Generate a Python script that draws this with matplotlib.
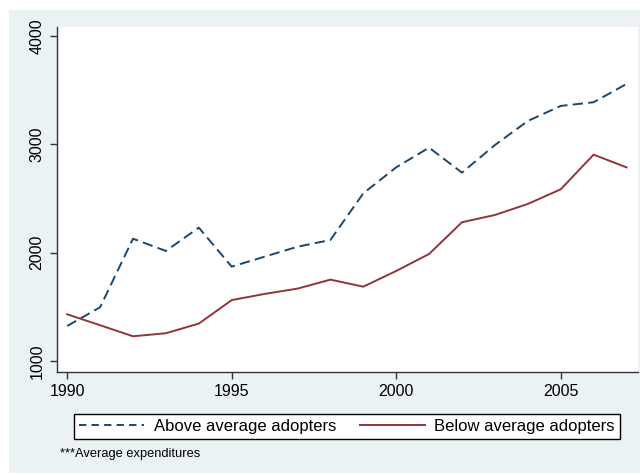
import matplotlib.pyplot as plt
from matplotlib.lines import Line2D
from matplotlib.patches import Rectangle

plt.rcParams["font.family"] = ["Liberation Sans", "DejaVu Sans"]

years = list(range(1990, 2008))
above_avg = [1323, 1496, 2129, 2016, 2231, 1871, 1963, 2055, 2117, 2548,
             2788, 2970, 2739, 2994, 3216, 3355, 3389, 3558]
below_avg = [1431, 1330, 1228, 1256, 1345, 1562, 1619, 1668, 1751, 1686,
             1831, 1988, 2281, 2348, 2450, 2585, 2905, 2788]
xticks = [1990, 1995, 2000, 2005]
yticks = [1000, 2000, 3000, 4000]

BLUE = "#1a476f"
RED = "#90353b"

W, H = 640, 475
fig = plt.figure(figsize=(W / 100, H / 100), dpi=100, facecolor="white")

# graph region (light blue-grey panel), kept behind the axes
fig.patches.append(Rectangle((9 / W, 2 / H), 1 - 9 / W, 463 / H,
                             transform=fig.transFigure, facecolor="#eaf2f3",
                             edgecolor="none", zorder=-5))

ax = fig.add_axes([57 / W, 1 - 372 / H, (638 - 57) / W, (372 - 27) / H])
ax.set_zorder(2)
ax.set_facecolor("white")

ax.plot(years, above_avg, color=BLUE, lw=1.4, dashes=(5.3, 2.7))
ax.plot(years, below_avg, color=RED, lw=1.4)

ax.set_xlim(1989.69, 2007.35)
ax.set_ylim(898, 4084)
ax.set_xticks(xticks)
ax.set_yticks(yticks)
ax.tick_params(axis="both", direction="out", length=5, width=1,
               color="#333333", labelsize=11.5, pad=4)
ax.tick_params(axis="y", labelrotation=90)
for lbl in ax.get_yticklabels():
    lbl.set_va("center")

for side in ["top", "right"]:
    ax.spines[side].set_visible(False)
for side in ["left", "bottom"]:
    ax.spines[side].set_color("#333333")
    ax.spines[side].set_linewidth(1)

# legend keys with shorter dashes than the plotted line
handles = [
    Line2D([], [], color=BLUE, lw=1.4, dashes=(3.75, 2.7)),
    Line2D([], [], color=RED, lw=1.4),
]
labels = ["Above average adopters", "Below average adopters"]
leg = ax.legend(handles, labels, loc="lower left", ncol=2, mode="expand",
                bbox_to_anchor=(74 / W, 1 - 439 / H, 546 / W, 31 / H),
                bbox_transform=fig.transFigure, fancybox=False,
                edgecolor="black", framealpha=1, fontsize=12,
                handlelength=3.9, handletextpad=0.6, borderaxespad=0,
                borderpad=0.3, columnspacing=1.0)
leg.get_frame().set_linewidth(1)

fig.text(60 / W, 1 - 454 / H, "***Average expenditures", fontsize=9.3,
         family=["Liberation Sans Narrow", "Liberation Sans"],
         va="center", ha="left")

fig.savefig("out.png", dpi=100, facecolor="white")
